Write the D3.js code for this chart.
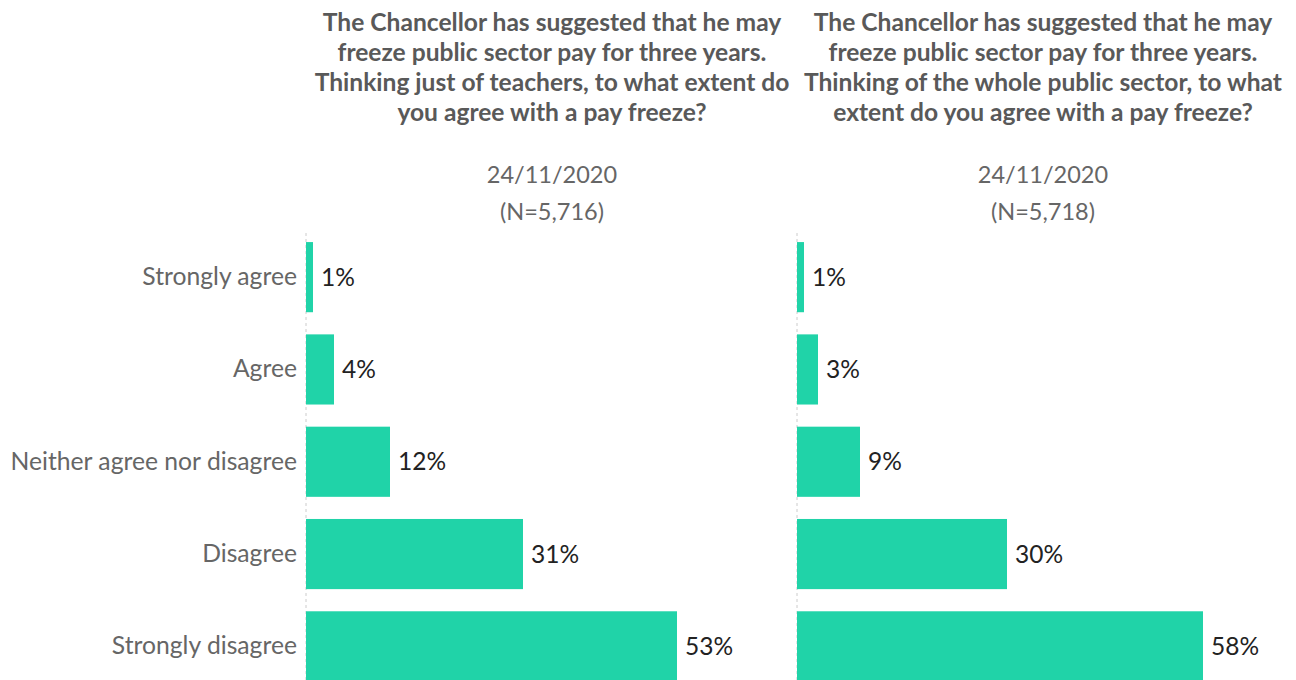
<!DOCTYPE html>
<html>
<head>
<meta charset="utf-8">
<script src="https://cdn.jsdelivr.net/npm/d3@7"></script>
<style>
  body { margin: 0; background: #fff; }
  #canvas { width: 1296px; height: 680px; overflow: hidden; }
  text { font-family: Lato, "Open Sans", sans-serif; }
</style>
</head>
<body>
<div id="canvas" class="canvas"></div>
<script>
// data
var categories = ['Strongly agree', 'Agree', 'Neither agree nor disagree', 'Disagree', 'Strongly disagree'];
var teachers = [1, 4, 12, 31, 53];
var publicSector = [1, 3, 9, 30, 58];
var titles = [
  ['The Chancellor has suggested that he may', 'freeze public sector pay for three years.', 'Thinking just of teachers, to what extent do', 'you agree with a pay freeze?'],
  ['The Chancellor has suggested that he may', 'freeze public sector pay for three years.', 'Thinking of the whole public sector, to what', 'extent do you agree with a pay freeze?']
];
var dates = ['24/11/2020', '24/11/2020'];
var sampleSizes = ['(N=5,716)', '(N=5,718)'];

var W = 1296, H = 680;
var panelX = [306, 797], panelW = 492;

var svg = d3.select('.canvas')
  .append('svg')
  .attr('width', W)
  .attr('height', H);

var scaleY = d3.scaleBand()
  .domain(categories)
  .range([231, 231 + 5 * 92.3])
  .paddingInner(0.24)
  .paddingOuter(0.12);

var scaleX = d3.scaleLinear()
  .domain([0, 70])
  .range([0, 490]);

var series = [teachers, publicSector];

series.forEach(function(vals, p) {
  var g = svg.append('g').attr('transform', 'translate(' + panelX[p] + ',0)');

  // title
  var t = g.append('text')
    .attr('x', panelW / 2)
    .attr('y', 31)
    .attr('text-anchor', 'middle')
    .style('font-size', '24.6px')
    .style('font-weight', 'bold')
    .style('fill', '#595959');
  t.selectAll('tspan').data(titles[p]).enter().append('tspan')
    .attr('x', panelW / 2)
    .attr('dy', function(d, i) { return i === 0 ? 0 : 30; })
    .text(function(d) { return d; });

  g.append('text')
    .attr('x', panelW / 2).attr('y', 183)
    .attr('text-anchor', 'middle')
    .style('font-size', '23.5px').style('fill', '#666')
    .text(dates[p]);
  g.append('text')
    .attr('x', panelW / 2).attr('y', 220)
    .attr('text-anchor', 'middle')
    .style('font-size', '23.5px').style('fill', '#666')
    .text(sampleSizes[p]);

  // dashed zero line
  g.append('line')
    .attr('x1', scaleX(0)).attr('x2', scaleX(0))
    .attr('y1', 233).attr('y2', H)
    .style('stroke', '#ccc')
    .style('stroke-dasharray', '3,3');

  g.selectAll('rect')
    .data(vals)
    .enter().append('rect')
    .attr('x', scaleX(0))
    .attr('y', function(d, i) { return scaleY(categories[i]); })
    .attr('width', function(d) { return scaleX(d); })
    .attr('height', scaleY.bandwidth())
    .style('fill', '#20d3a8');

  g.selectAll('.val')
    .data(vals)
    .enter().append('text')
    .attr('class', 'val')
    .attr('x', function(d) { return scaleX(d) + 8; })
    .attr('y', function(d, i) { return scaleY(categories[i]) + scaleY.bandwidth() / 2; })
    .attr('dy', '0.35em')
    .style('font-size', '24.5px')
    .style('fill', '#222')
    .text(function(d) { return d + '%'; });

  if (p === 0) {
    var axisY = d3.axisLeft(scaleY).tickSize(0).tickPadding(9);
    var axisNode = g.append('g').attr('class', 'axis');
    axisY(axisNode);
    axisNode.select('.domain').remove();
    axisNode.selectAll('text')
      .style('font-family', 'Lato, sans-serif')
      .style('font-size', '24.7px')
      .style('fill', '#666');
  }
});
</script>
</body>
</html>
